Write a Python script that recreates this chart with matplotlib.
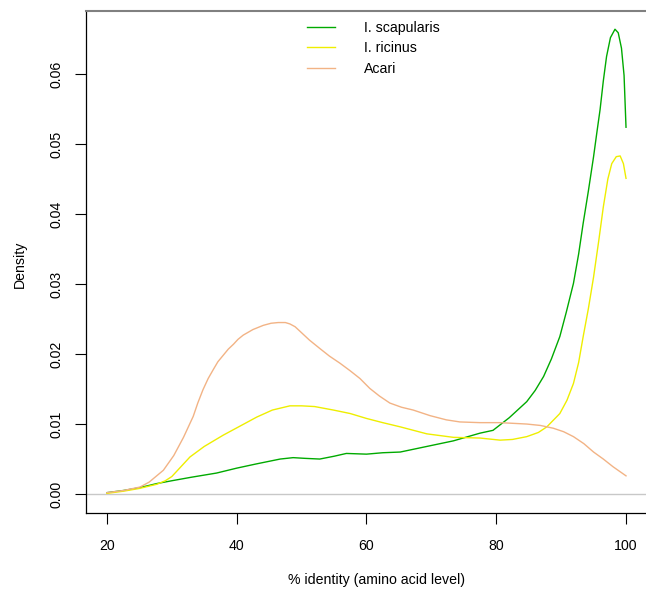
import numpy as np
import matplotlib.pyplot as plt

plt.rcParams['font.family'] = ['Liberation Sans', 'DejaVu Sans']
plt.rcParams['font.size'] = 10.2

# Density curves (x = % identity, y = density)
scap_x = [20, 22.5, 25, 27.7, 30, 33, 36.9, 40, 43, 46.7, 48.7, 50.5, 52.8, 55, 56.9, 60, 62.5,
          65.2, 69.3, 73.4, 77.5, 79.5, 82, 84.7, 86, 87.3, 88.5, 89.8, 90.8, 91.9, 92.7, 93.4,
          94.2, 95.0, 95.5, 96.0, 96.5, 97.0, 97.6, 98.3, 98.8, 99.3, 99.7, 100]
scap_y = [0.0002, 0.0005, 0.0009, 0.0015, 0.0019, 0.0024, 0.0030, 0.0037, 0.0043, 0.0050,
          0.0052, 0.0051, 0.0050, 0.0054, 0.0058, 0.0057, 0.0059, 0.0060, 0.0068, 0.0076,
          0.0087, 0.0091, 0.0109, 0.0132, 0.0148, 0.0168, 0.0193, 0.0225, 0.0260, 0.0301,
          0.0343, 0.0387, 0.0433, 0.0482, 0.0516, 0.0549, 0.0590, 0.0625, 0.0652, 0.0664,
          0.0659, 0.0637, 0.0598, 0.0524]

ric_x = [20, 22.5, 25, 27.7, 29, 30, 31.4, 32.8, 35, 37.9, 40.5, 43.1, 45.5, 48.2, 50, 52,
         54.9, 57.5, 60, 62.5, 65.2, 69.3, 73.4, 77.5, 80.6, 82.5, 84.7, 86.5, 87.8, 89.8,
         90.9, 91.9, 92.7, 93.4, 94.2, 95.0, 95.8, 96.5, 97.2, 97.8, 98.5, 99.1, 99.6, 100]
ric_y = [0.0001, 0.0004, 0.0008, 0.0014, 0.0019, 0.0025, 0.0039, 0.0053, 0.0068, 0.0084,
         0.0097, 0.0110, 0.0120, 0.0126, 0.0126, 0.0125, 0.0120, 0.0115, 0.0108, 0.0102,
         0.0096, 0.0086, 0.0081, 0.0080, 0.0077, 0.0078, 0.0082, 0.0088, 0.0096, 0.0115,
         0.0134, 0.0158, 0.0188, 0.0225, 0.0265, 0.0310, 0.0362, 0.0410, 0.0450, 0.0472,
         0.0482, 0.0483, 0.0472, 0.0451]

acari_x = [20, 22.5, 25.1, 26.5, 28.7, 30.3, 31.8, 33.3, 34.0, 34.8, 35.6, 36.4, 37.1, 37.9,
           38.7, 39.5, 40.2, 41.0, 42.5, 44.1, 45.3, 46.4, 47.5, 48.2, 49.0, 49.7, 51.2, 52.8,
           54.3, 55.9, 57.5, 59.0, 60.5, 62, 63.6, 65.4, 67.2, 69.8, 72.3, 74.4, 77.5, 80.6,
           84.7, 86.8, 88.8, 90.4, 91.9, 93.5, 95.0, 96.5, 98.0, 100]
acari_y = [0.0002, 0.0005, 0.0010, 0.0017, 0.0034, 0.0055, 0.0081, 0.0111, 0.0130, 0.0149,
           0.0165, 0.0178, 0.0189, 0.0198, 0.0207, 0.0214, 0.0221, 0.0227, 0.0235, 0.0241,
           0.0244, 0.0245, 0.0245, 0.0243, 0.0239, 0.0233, 0.0220, 0.0208, 0.0197, 0.0187,
           0.0176, 0.0165, 0.0151, 0.0140, 0.0130, 0.0124, 0.0120, 0.0112, 0.0106, 0.0103,
           0.0102, 0.0102, 0.0100, 0.0098, 0.0094, 0.0089, 0.0082, 0.0072, 0.0060, 0.0050,
           0.0039, 0.0026]

labels = ['I. scapularis', 'I. ricinus', 'Acari']
colors = ['#00AA00', '#EEEE00', '#F2B385']
xticks = [20, 40, 60, 80, 100]
yticks = [0.00, 0.01, 0.02, 0.03, 0.04, 0.05, 0.06]

fig = plt.figure(figsize=(6.46, 5.97), dpi=100)
ax = fig.add_axes([0.1334, 0.1415, 0.8678, 0.840])

ax.axhline(0, color='#C8C8C8', lw=1.0, zorder=1)
ax.plot(scap_x, scap_y, color=colors[0], lw=1.0, label=labels[0])
ax.plot(ric_x, ric_y, color=colors[1], lw=1.0, label=labels[1])
ax.plot(acari_x, acari_y, color=colors[2], lw=1.0, label=labels[2])

ax.set_xlim(16.8, 103.2)
ax.set_ylim(-0.00264, 0.069)
ax.set_xticks(xticks)
ax.set_yticks(yticks)
ax.set_yticklabels(['%.2f' % v for v in yticks], rotation=90, va='center')
ax.tick_params(axis='x', length=8, width=0.8, pad=11)
ax.tick_params(axis='y', length=8, width=0.8, pad=8.5)

ax.spines['right'].set_visible(False)
ax.spines['top'].set_color('#808080')
ax.spines['top'].set_linewidth(1.5)
for s in ['left', 'bottom']:
    ax.spines[s].set_color('black')
    ax.spines[s].set_linewidth(0.9)

ax.set_xlabel('% identity (amino acid level)')
ax.xaxis.set_label_coords(0.5187, -0.121)
ax.xaxis.label.set_va('top')
fig.text(20 / 646, 1 - 264 / 597, 'Density', rotation=90, ha='center', va='center')

ax.legend(loc='upper left', bbox_to_anchor=(307 / 646, 1 - 21 / 597),
          bbox_transform=fig.transFigure, frameon=False, borderpad=0,
          borderaxespad=0, handlelength=2.0, handletextpad=2.0, labelspacing=0.45)

fig.savefig('out.png', dpi=100)
